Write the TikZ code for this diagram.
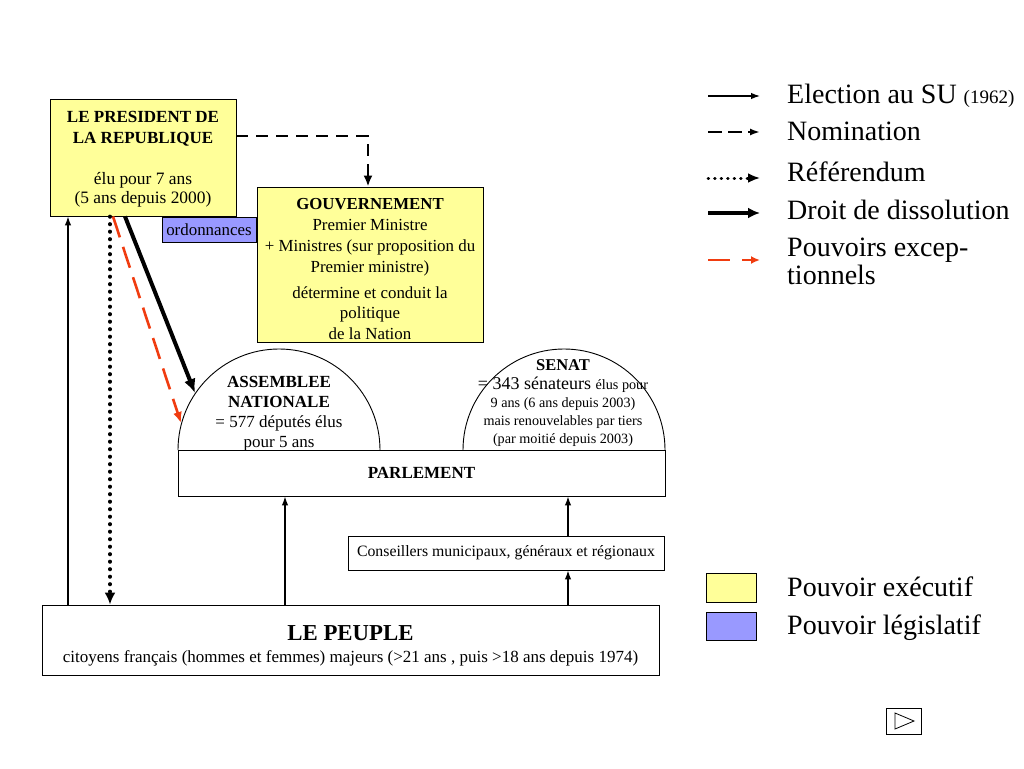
\documentclass[tikz,border=0pt]{standalone}
\usepackage{fontspec}
\setmainfont{Liberation Serif}
\usetikzlibrary{arrows.meta,shapes.geometric}
\definecolor{execyellow}{HTML}{FFFF99}
\definecolor{legblue}{HTML}{9999FF}
\definecolor{exred}{HTML}{F03C10}
\newcommand{\fs}[1]{\fontsize{#1}{#1}\selectfont}
\tikzset{
  exec/.style={draw, line width=0.9pt, fill=execyellow, inner sep=2pt, align=center},
  legis/.style={draw, line width=0.9pt, fill=legblue, inner sep=2pt},
  plain/.style={draw, line width=0.9pt, fill=white, align=center},
  txt/.style={inner sep=0pt, align=center},
  election/.style={line width=1.3pt, -{Latex[length=9pt,width=6.5pt]}},
  nomin/.style={line width=2.2pt, dash pattern=on 12pt off 8pt, -{Latex[length=11pt,width=9pt]}},
  refer/.style={line width=3.6pt, line cap=round, dash pattern=on 0.5pt off 7pt, -{Latex[length=12pt,width=11pt]}},
  dissol/.style={line width=4pt, -{Latex[length=14pt,width=12pt]}},
  pexcep/.style={exred, line width=2.6pt, dash pattern=on 22pt off 10pt, -{Latex[length=11pt,width=9pt]}},
  legtext/.style={anchor=west, inner sep=0pt, align=left, font=\fs{28}}
}
\begin{document}
\begin{tikzpicture}[x=1pt,y=-1pt]
\useasboundingbox (0,0) rectangle (1024,768);

% President
\node[exec, minimum width=186pt, minimum height=117pt] (pres) at (143,157.5) {};
\node[txt, font=\fs{17.4}] (prestext) at (143,159.5)
  {\fs{17}\textbf{LE PRESIDENT DE}\\[3pt]\fs{17}\textbf{LA REPUBLIQUE}\\[24pt]
   élu pour 7 ans\\[1.5pt](5 ans depuis 2000)};

% Gouvernement
\node[exec, minimum width=226pt, minimum height=155pt] (gov) at (370,264.5) {};
\node[txt, font=\fs{16.9}] (govtext) at (370,269)
  {\fs{16.8}\textbf{GOUVERNEMENT}\\[4pt]
   Premier Ministre\\[4pt]
   + Ministres (sur proposition du\\[4pt]
   Premier ministre)\\[9pt]
   détermine et conduit la\\[3.5pt]
   politique\\[3.5pt]
   de la Nation};

% ordonnances
\node[legis, minimum width=94pt, minimum height=25pt, inner sep=0pt, font=\fs{16.9}] (ord) at (209,229.5) {ordonnances};

% Assemblee and Senat domes
\coordinate (anc) at (279,450);
\coordinate (sec) at (564,450);
\draw[line width=0.9pt, fill=white] (178,450) arc[start angle=180, end angle=0, radius=101pt];
\draw[line width=0.9pt, fill=white] (463,450) arc[start angle=180, end angle=0, radius=101pt];

\node[txt, font=\fs{17}] (antext) at (279,414)
  {\textbf{ASSEMBLEE}\\[3pt]\textbf{NATIONALE}\\[3pt]
   = 577 députés élus\\[3pt]
   pour 5 ans};
\node[txt, font=\fs{14.2}] (setext) at (563,403)
  {\fs{16.5}\textbf{SENAT}\\[4.5pt]
   \fs{18}= 343 sénateurs \fs{14.2}élus pour\\[4pt]
   9 ans (6 ans depuis 2003)\\[4pt]
   mais renouvelables par tiers\\[3.5pt]
   (par moitié depuis 2003)};

% Parlement
\node[plain, minimum width=487pt, minimum height=46pt, font=\fs{17}\bfseries] (parl) at (421.5,473) {PARLEMENT};

% Conseillers
\node[plain, minimum width=316pt, minimum height=34pt, inner sep=0pt, font=\fs{15.8}] (cons) at (506,553) {Conseillers municipaux, généraux et régionaux};

% Peuple
\node[plain, minimum width=617pt, minimum height=70pt, inner sep=0pt] (peuple) at (350.5,640) {};
\node[txt, font=\fs{17}] (peupletext) at (350.5,646)
  {\fs{22.8}\textbf{LE PEUPLE}\\[5pt]
   citoyens français (hommes et femmes) majeurs (>21 ans , puis >18 ans depuis 1974)};

% connector end points
\coordinate (elecP) at (68,605);
\coordinate (refS) at (110,217);
\coordinate (disS) at (125,217);
\coordinate (disE) at (195,393);
\coordinate (exS) at (113,217);
\coordinate (exE) at (181,423);
\coordinate (nomS) at (240,136);
\coordinate (nomC) at (368,136);
\coordinate (pa) at (285,0);
\coordinate (pb) at (568,0);

% connectors
\draw[election] (peuple.north -| elecP) -- (pres.south -| elecP);
\draw[refer] (pres.south -| refS) -- (peuple.north -| refS);
\draw[pexcep] (pres.south -| exS) -- (exE);
\draw[dissol] (pres.south -| disS) -- (disE);
\draw[nomin] (pres.east |- nomS) -- (nomC) -- (gov.north -| nomC);
\draw[election] (peuple.north -| pa) -- (parl.south -| pa);
\draw[election] (peuple.north -| pb) -- (cons.south -| pb);
\draw[election] (cons.north -| pb) -- (parl.south -| pb);

% Legend arrows
\coordinate (l1a) at (708,96);  \coordinate (l1b) at (760,96);
\coordinate (l2a) at (708,132); \coordinate (l2b) at (760,132);
\coordinate (l3a) at (708,178); \coordinate (l3b) at (760,178);
\coordinate (l4a) at (708,213); \coordinate (l4b) at (760,213);
\coordinate (l5a) at (708,260); \coordinate (l5b) at (760,260);
\draw[election] (l1a) -- (l1b);
\draw[line width=1.8pt, dash pattern=on 14pt off 6pt, -{Latex[length=10pt,width=7pt]}] (l2a) -- (l2b);
\draw[line width=3pt, line cap=round, dash pattern=on 0.5pt off 6pt, -{Latex[length=12pt,width=10pt]}] (l3a) -- (l3b);
\draw[line width=3.6pt, -{Latex[length=12pt,width=11pt]}] (l4a) -- (l4b);
\draw[exred, line width=2.6pt, dash pattern=on 22pt off 12pt, -{Latex[length=9pt,width=8pt]}] (l5a) -- (l5b);

\node[legtext] (t1) at (787,96) {Election au SU \fs{19}(1962)};
\node[legtext] (t2) at (787,131) {Nomination};
\node[legtext] (t3) at (787,172) {Référendum};
\node[legtext] (t4) at (787,210) {Droit de dissolution};
\node[legtext] (t5) at (787,261) {Pouvoirs excep-\\[0pt]tionnels};

% Colour legend
\node[exec, minimum width=50pt, minimum height=29pt, inner sep=0pt] (ky) at (731,587.5) {};
\node[legis, minimum width=50pt, minimum height=28pt, inner sep=0pt] (kb) at (731,626) {};
\node[legtext] (t6) at (787,587) {Pouvoir exécutif};
\node[legtext] (t7) at (787,628) {Pouvoir législatif};

% navigation button
\node[draw, line width=0.8pt, minimum width=35pt, minimum height=26pt, inner sep=0pt] (nav) at (903.5,721) {};
\draw[line width=0.8pt] (895,713) -- (914,721) -- (895,729) -- cycle;
\end{tikzpicture}
\end{document}
